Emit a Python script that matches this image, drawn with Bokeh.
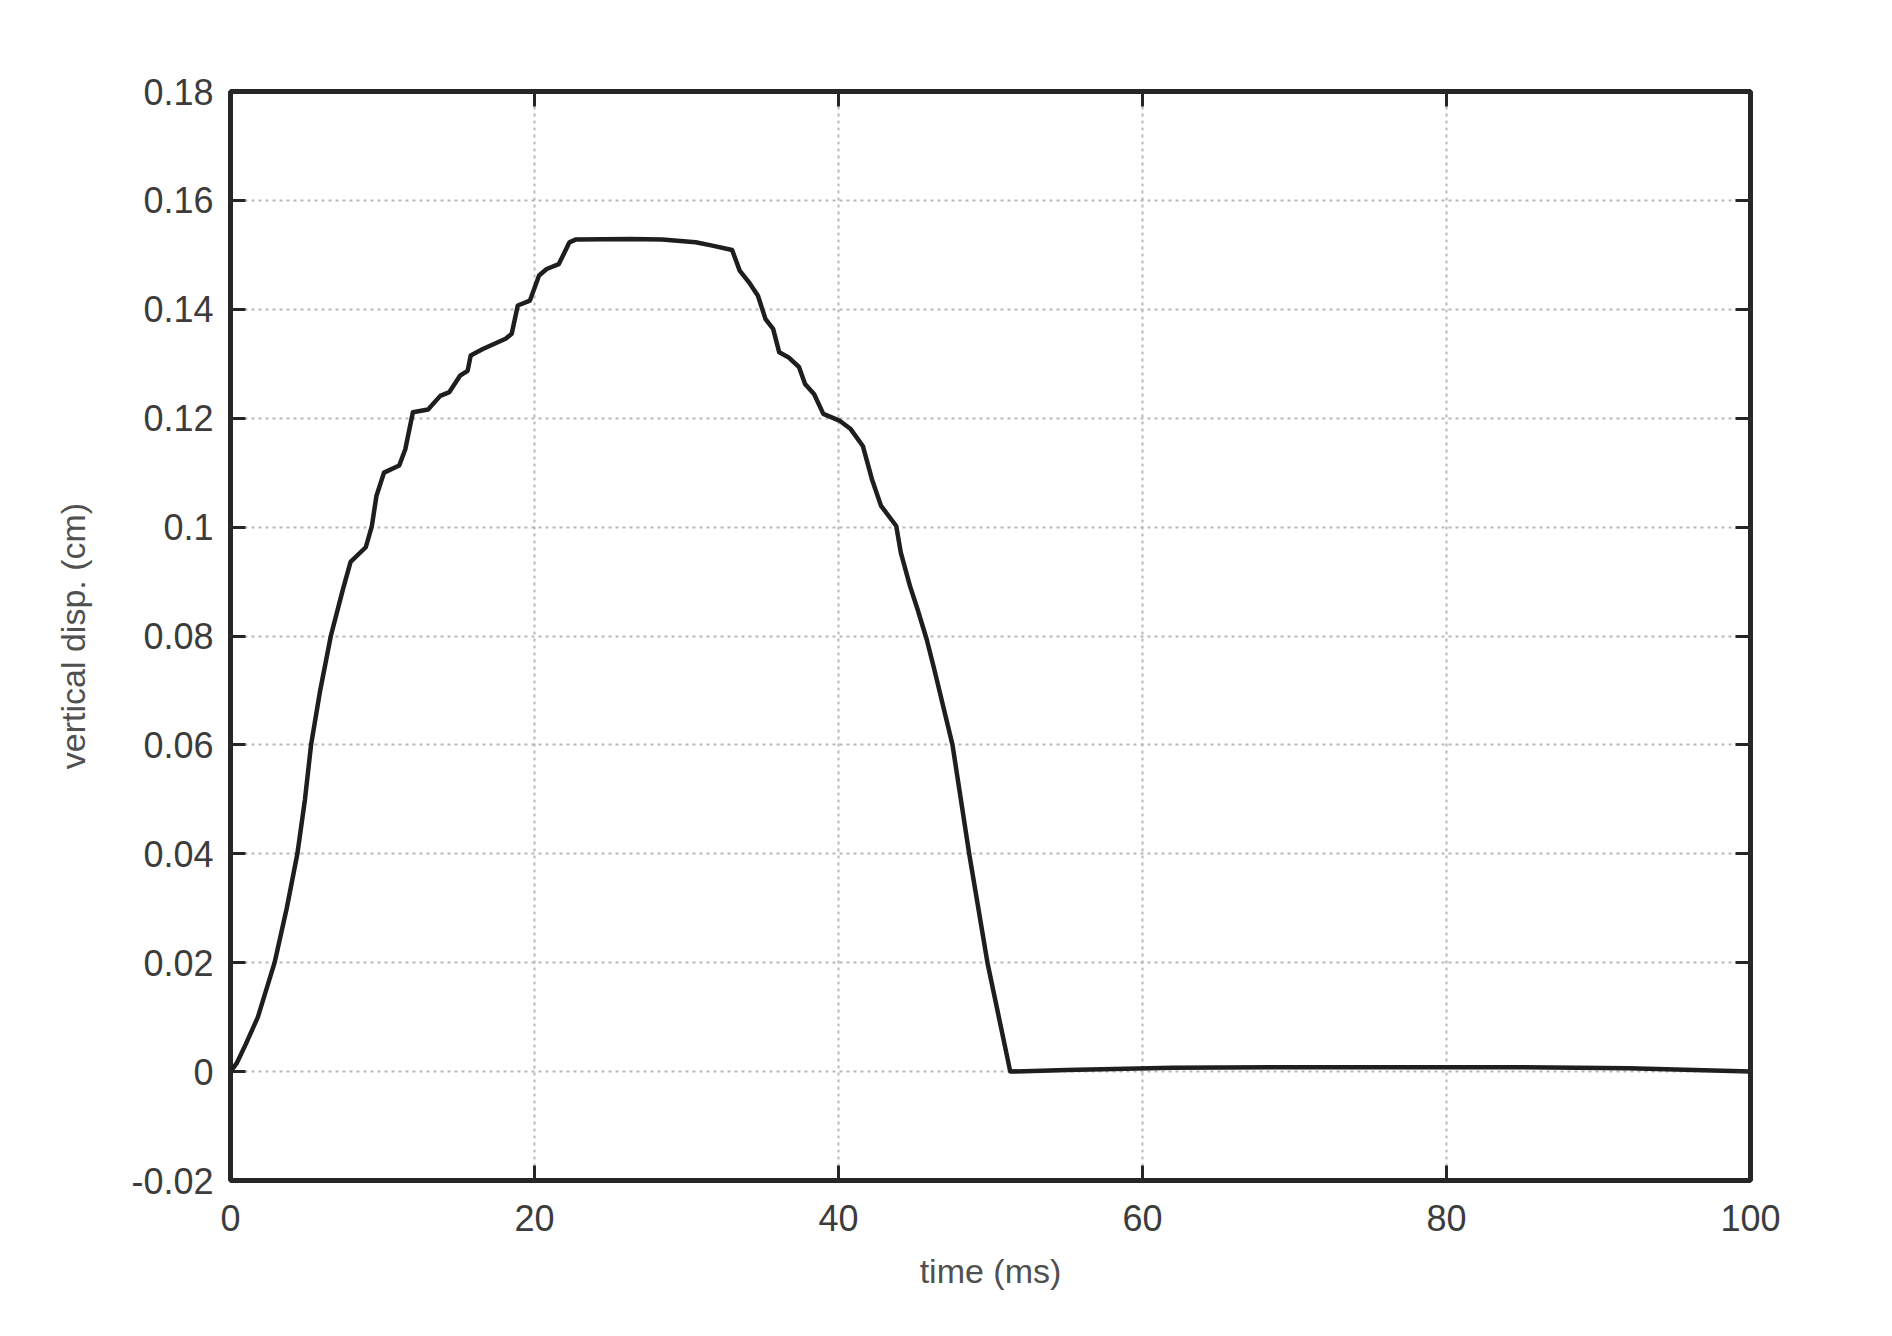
from bokeh.plotting import figure
from bokeh.models import ColumnDataSource, FixedTicker, LinearAxis, Range1d
from bokeh.embed import file_html
from bokeh.resources import INLINE

# curve: time in ms, vertical displacement in cm
t_ms = [0, 0.4, 1.0, 1.8, 2.9, 3.7, 4.4, 4.9, 5.3, 5.9,
        6.6, 7.4, 7.9, 8.9, 9.3, 9.6, 10.1, 11.1, 11.5, 12.0,
        13.0, 13.8, 14.4, 15.1, 15.6, 15.8, 16.6, 18.1, 18.5, 18.9,
        19.7, 20.3, 20.8, 21.6, 22.3, 22.7, 26.3, 28.4, 30.6, 31.7,
        33.0, 33.5, 34.1, 34.7, 35.2, 35.7, 36.1, 36.7, 37.4, 37.8,
        38.4, 39.0, 40.1, 40.8, 41.6, 42.2, 42.8, 43.8, 44.1, 44.7,
        45.2, 45.8, 46.3, 47.5, 48.6, 49.8, 51.3, 55.0, 62.0, 70.0,
        85.0, 92.0, 100.0]
disp_cm = [0, 0.0015, 0.005, 0.010, 0.020, 0.030, 0.040, 0.050, 0.060, 0.070,
           0.080, 0.0886, 0.0936, 0.0963, 0.1002, 0.1057, 0.1100, 0.1113, 0.1143, 0.1211,
           0.1216, 0.1241, 0.1248, 0.1278, 0.1287, 0.1315, 0.1327, 0.1346, 0.1355, 0.1407,
           0.1416, 0.1462, 0.1474, 0.1483, 0.1523, 0.1528, 0.1529, 0.1528, 0.1523, 0.1517,
           0.1509, 0.1471, 0.1450, 0.1425, 0.1382, 0.1364, 0.1321, 0.1312, 0.1294, 0.1263,
           0.1244, 0.1208, 0.1195, 0.1180, 0.1149, 0.1088, 0.1039, 0.1002, 0.0953, 0.0892,
           0.0849, 0.0794, 0.0739, 0.0600, 0.0400, 0.0200, 0.0000, 0.0003, 0.0007, 0.0008,
           0.0008, 0.0006, 0.0]

x_ticks = [0, 20, 40, 60, 80, 100]
x_tick_labels = ["0", "20", "40", "60", "80", "100"]
y_ticks = [-0.02, 0, 0.02, 0.04, 0.06, 0.08, 0.1, 0.12, 0.14, 0.16, 0.18]
y_tick_labels = ["-0.02", "0", "0.02", "0.04", "0.06", "0.08", "0.1",
                 "0.12", "0.14", "0.16", "0.18"]

FONT = "Liberation Sans"
TICK_COL = "#3c3c3c"
LABEL_COL = "#505050"

p = figure(width=1876, height=1320, output_backend="svg", toolbar_location=None,
           x_range=Range1d(0, 100), y_range=Range1d(-0.02, 0.18),
           min_border_left=230, min_border_right=126,
           min_border_top=91, min_border_bottom=140)

p.background_fill_color = "white"
p.border_fill_color = "white"
p.outline_line_color = "#262626"
p.outline_line_width = 5

src = ColumnDataSource(data=dict(t=t_ms, v=disp_cm))
p.line("t", "v", source=src, line_color="#1e1e1e", line_width=4.5,
       line_join="round")

for g in (p.xgrid[0], p.ygrid[0]):
    g.grid_line_color = "#b8b8b8"
    g.grid_line_width = 2
    g.grid_line_dash = "3 4"

p.xaxis.ticker = FixedTicker(ticks=x_ticks)
p.yaxis.ticker = FixedTicker(ticks=y_ticks)
p.xaxis.major_label_overrides = dict(zip(x_ticks, x_tick_labels))
p.yaxis.major_label_overrides = dict(zip(y_ticks, y_tick_labels))
p.xaxis.axis_label = "time (ms)"
p.yaxis.axis_label = "vertical disp. (cm)"

for ax in (p.xaxis[0], p.yaxis[0]):
    ax.axis_line_color = None
    ax.major_tick_in = 15
    ax.major_tick_out = 0
    ax.major_tick_line_width = 3
    ax.major_tick_line_color = "#262626"
    ax.minor_tick_line_color = None
    ax.major_label_text_font = FONT
    ax.major_label_text_font_size = "36px"
    ax.major_label_text_color = TICK_COL
    ax.axis_label_text_font = FONT
    ax.axis_label_text_font_size = "34px"
    ax.axis_label_text_font_style = "normal"
    ax.axis_label_text_color = LABEL_COL

p.xaxis.major_label_standoff = 24
p.xaxis.axis_label_standoff = 18
p.yaxis.major_label_standoff = 17
p.yaxis.axis_label_standoff = 36

# mirrored ticks on the top and right edges, no labels
for loc in ("above", "right"):
    ax = LinearAxis(ticker=FixedTicker(ticks=x_ticks if loc == "above" else y_ticks))
    ax.axis_line_color = None
    ax.major_tick_in = 15
    ax.major_tick_out = 0
    ax.major_tick_line_width = 3
    ax.major_tick_line_color = "#262626"
    ax.minor_tick_line_color = None
    ax.major_label_text_font_size = "1px"
    ax.major_label_text_alpha = 0
    p.add_layout(ax, loc)

open("out.html", "w").write(file_html(p, INLINE))
